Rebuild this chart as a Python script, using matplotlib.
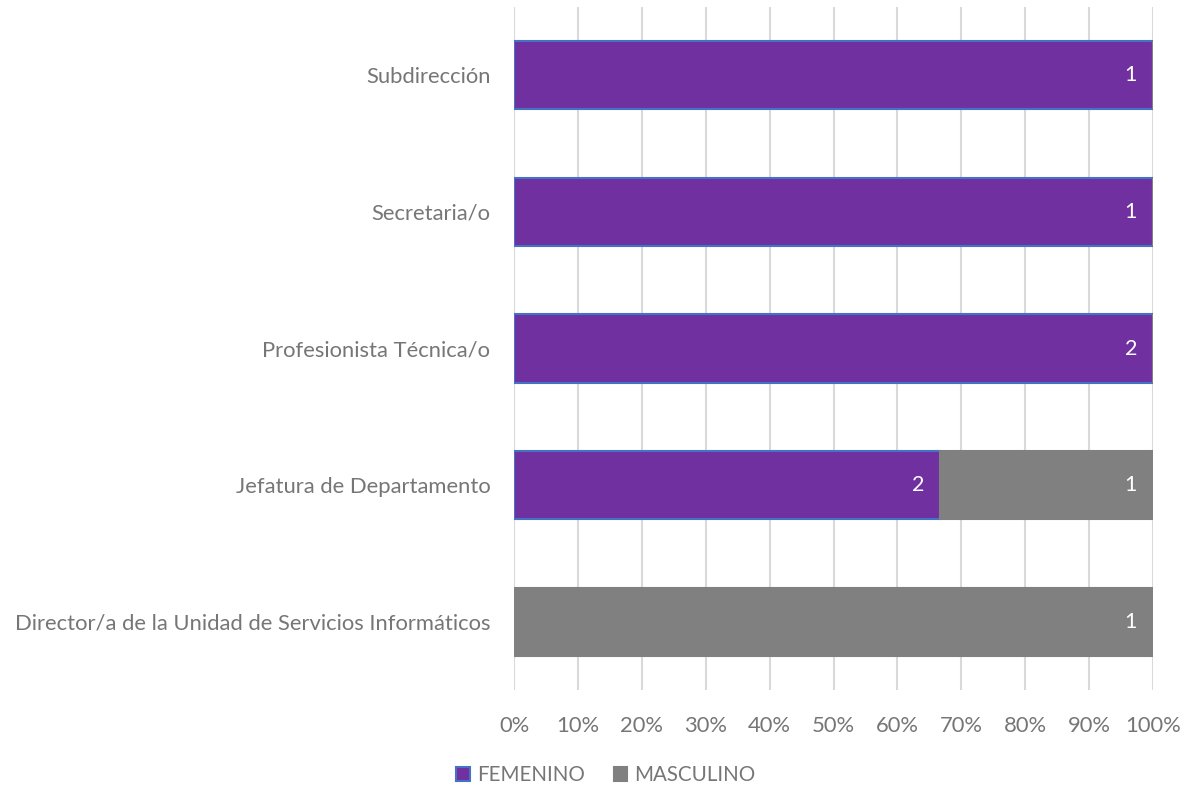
import matplotlib.pyplot as plt
import numpy as np

plt.rcParams['font.family'] = ['Lato', 'DejaVu Sans']

categories = ['Director/a de la Unidad de Servicios Informáticos',
              'Jefatura de Departamento',
              'Profesionista Técnica/o',
              'Secretaria/o',
              'Subdirección']
femenino = np.array([0, 2, 2, 1, 1])
masculino = np.array([1, 1, 0, 0, 0])

text_color = '#767676'
purple = '#7030A0'
gray = '#808080'

total = femenino + masculino
fem_pct = femenino / total * 100
mas_pct = masculino / total * 100

fig = plt.figure(figsize=(11.81, 7.89), dpi=100)
ax = fig.add_axes([514 / 1181, 1 - 690 / 789, 639 / 1181, 683 / 789])

y = np.arange(len(categories))
b1 = ax.barh(y, fem_pct, height=0.5, color=purple, edgecolor='#4472C4',
             linewidth=1.5, label='FEMENINO', zorder=3)
b2 = ax.barh(y, mas_pct, left=fem_pct, height=0.5, color=gray, edgecolor=gray,
             linewidth=1.5, label='MASCULINO', zorder=3)

# value labels at the inner end of each segment
for bars, vals in ((b1, femenino), (b2, masculino)):
    for bar, v in zip(bars, vals):
        if v == 0:
            continue
        right = bar.get_x() + bar.get_width()
        ax.text(right - 2.5, bar.get_y() + bar.get_height() / 2, str(v),
                color='white', fontsize=15.5, ha='right', va='center', zorder=4)

ax.set_xlim(0, 100)
ax.set_ylim(-0.5, len(categories) - 0.5)
ax.set_xticks(np.arange(0, 101, 10))
ax.set_xticklabels([f'{t}%' for t in range(0, 101, 10)])
ax.set_yticks(y)
ax.set_yticklabels(categories)
ax.tick_params(axis='both', length=0, labelsize=15.8, colors=text_color)
ax.tick_params(axis='x', pad=19)
ax.tick_params(axis='y', pad=17)
ax.xaxis.grid(True, color='#D9D9D9', linewidth=1.5, zorder=0)
for s in ax.spines.values():
    s.set_visible(False)

leg = fig.legend(handles=[b1, b2], loc='center', bbox_to_anchor=(606 / 1181, 1 - 775 / 789),
                 ncol=2, frameon=False, fontsize=14.8, handlelength=0.65, handleheight=0.7,
                 handletextpad=0.35, columnspacing=1.4)
for t in leg.get_texts():
    t.set_color(text_color)

fig.savefig('out.png', dpi=100)
